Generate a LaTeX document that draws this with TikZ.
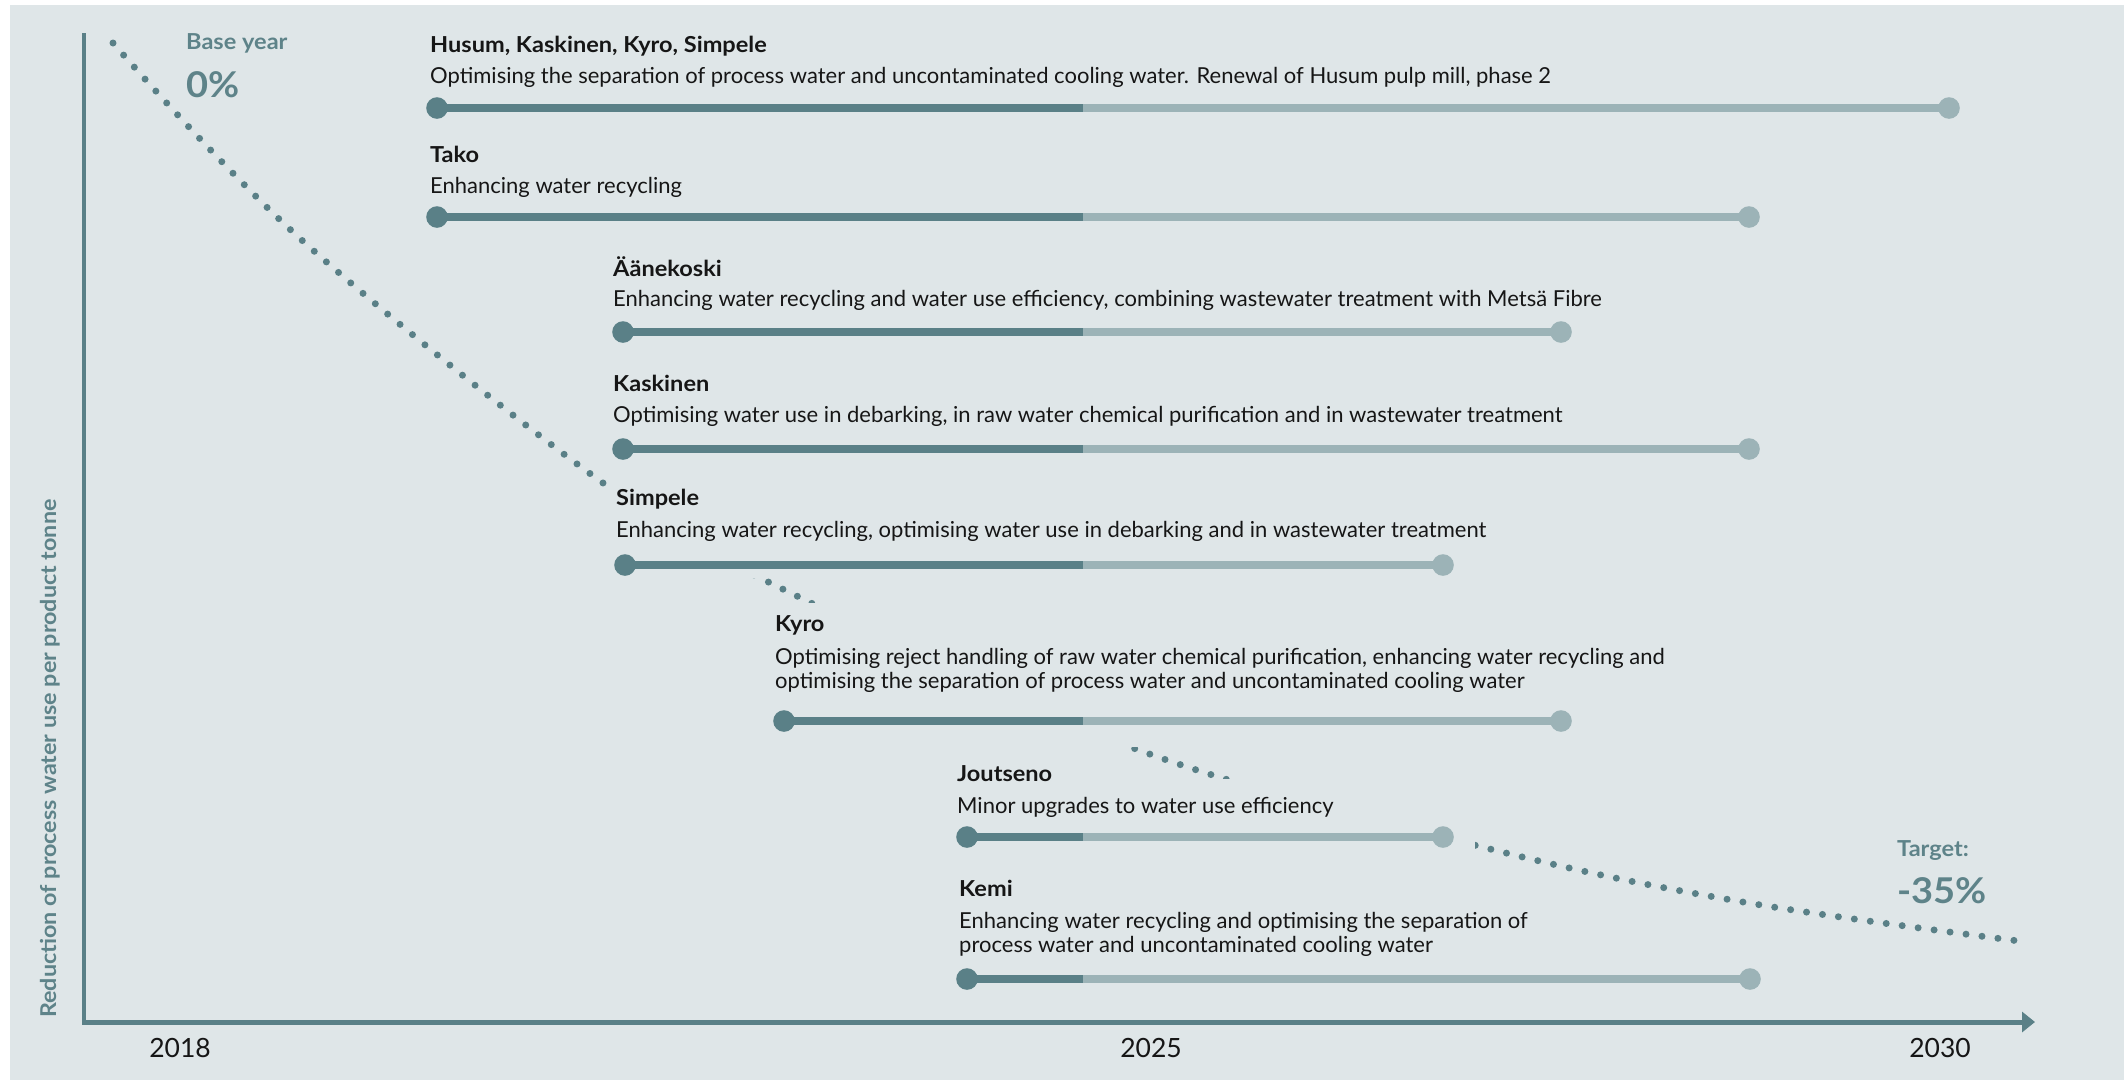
\documentclass[tikz,border=0pt]{standalone}
\usepackage{fontspec}
\setmainfont{Lato}
\newfontfamily\widefont{Lato}[FakeStretch=1.07]
\usetikzlibrary{arrows.meta}
\definecolor{bgc}{HTML}{DFE6E8}
\definecolor{tealc}{HTML}{5A8087}
\definecolor{lightc}{HTML}{9CB3B7}
\definecolor{labc}{HTML}{5E8389}
\definecolor{txtc}{HTML}{161616}
\begin{document}
\begin{tikzpicture}[x=1pt,y=-1pt,
  titletext/.style={anchor=base west,inner sep=0pt,font=\widefont\fontsize{22}{26}\selectfont\bfseries,text=txtc},
  desctext/.style={anchor=base west,inner sep=0pt,font=\fontsize{22}{26}\selectfont,text=txtc},
  yeartext/.style={anchor=base,inner sep=0pt,font=\fontsize{26.5}{30}\selectfont,text=txtc},
  smalllab/.style={anchor=base west,inner sep=0pt,font=\widefont\fontsize{22}{26}\selectfont\bfseries,text=labc},
  biglab/.style={anchor=base west,inner sep=0pt,font=\widefont\fontsize{35.5}{40}\selectfont\bfseries,text=labc},
  barlight/.style={line width=8.5pt,draw=lightc},
  bardark/.style={line width=8.5pt,draw=tealc},
  startdot/.style={circle,fill=tealc,minimum size=21.6pt,inner sep=0pt},
  enddot/.style={circle,fill=lightc,minimum size=21.6pt,inner sep=0pt},
  occl/.style={fill=bgc,draw=none},
  dotcurve/.style={draw=tealc,line width=7pt,line cap=round,dash pattern=on 0pt off 16.1pt}]
\useasboundingbox (0,0) rectangle (2127,1080);
\fill[white] (0,0) rectangle (2127,1080);
\fill[bgc] (10,5) rectangle (2124,1080);

% dotted trend curve
\draw[dotcurve] plot[smooth,tension=0.6] coordinates {(113,43) (305,243) (610,488) (807,601) (1144,752) (1490,849) (1743,902) (2019,941)};
% occluders (text blocks hide the curve)
\fill[occl] (610,486) rectangle (1500,578);
\fill[occl] (770,603) rectangle (1700,747);
\fill[occl] (950,779) rectangle (1475,862);

% axes
\coordinate (ytop) at (84,33);
\coordinate (orig) at (84,1022);
\coordinate (xend) at (2035,1022);
\draw[draw=tealc,line width=3.5pt] (ytop) -- (84,1024.5);
\draw[draw=tealc,line width=5pt,-{Triangle[length=13pt,width=20pt]}] (82.25,1022) -- (xend);

\node[yeartext] (y2018) at (180,1057) {2018};
\node[yeartext] (y2025) at (1151,1057) {2025};
\node[yeartext] (y2030) at (1940,1057) {2030};

\node[anchor=base west,inner sep=0pt,rotate=90,font=\widefont\fontsize{21.8}{25}\selectfont\bfseries,text=labc] (ylab) at (56,1018) {Reduction of process water use per product tonne};

\node[smalllab] (baseyear) at (186,49) {Base year};
\node[biglab] (zero) at (186,97) {0\%};
\node[smalllab] (target) at (1897,856) {Target:};
\node[biglab] (minus) at (1897,903) {-35\%};

% 1 Husum
\node[titletext] (t1) at (430,52) {Husum, Kaskinen, Kyro, Simpele};
\node[desctext] (d1) at (430,83) {Optimising the separation of process water and uncontaminated cooling water. Renewal of Husum pulp mill, phase 2};
\coordinate (s1) at (437,108); \coordinate (m1) at (1083,108); \coordinate (e1) at (1949,108);
\draw[barlight] (s1) -- (e1); \draw[bardark] (s1) -- (m1);
\node[startdot] (s1dot) at (s1) {}; \node[enddot] (e1dot) at (e1) {};

% 2 Tako
\node[titletext] (t2) at (430,162) {Tako};
\node[desctext] (d2) at (430,193) {Enhancing water recycling};
\coordinate (s2) at (437,217); \coordinate (m2) at (1083,217); \coordinate (e2) at (1749,217);
\draw[barlight] (s2) -- (e2); \draw[bardark] (s2) -- (m2);
\node[startdot] (s2dot) at (s2) {}; \node[enddot] (e2dot) at (e2) {};

% 3 Aanekoski
\node[titletext] (t3) at (613,276) {Äänekoski};
\node[desctext] (d3) at (613,306) {Enhancing water recycling and water use efficiency, combining wastewater treatment with Metsä Fibre};
\coordinate (s3) at (623,332); \coordinate (m3) at (1083,332); \coordinate (e3) at (1561,332);
\draw[barlight] (s3) -- (e3); \draw[bardark] (s3) -- (m3);
\node[startdot] (s3dot) at (s3) {}; \node[enddot] (e3dot) at (e3) {};

% 4 Kaskinen
\node[titletext] (t4) at (613,391) {Kaskinen};
\node[desctext] (d4) at (613,422) {Optimising water use in debarking, in raw water chemical purification and in wastewater treatment};
\coordinate (s4) at (623,449); \coordinate (m4) at (1083,449); \coordinate (e4) at (1749,449);
\draw[barlight] (s4) -- (e4); \draw[bardark] (s4) -- (m4);
\node[startdot] (s4dot) at (s4) {}; \node[enddot] (e4dot) at (e4) {};

% 5 Simpele
\node[titletext] (t5) at (616,505) {Simpele};
\node[desctext] (d5) at (616,537) {Enhancing water recycling, optimising water use in debarking and in wastewater treatment};
\coordinate (s5) at (625,565); \coordinate (m5) at (1083,565); \coordinate (e5) at (1443,565);
\draw[barlight] (s5) -- (e5); \draw[bardark] (s5) -- (m5);
\node[startdot] (s5dot) at (s5) {}; \node[enddot] (e5dot) at (e5) {};

% 6 Kyro
\node[titletext] (t6) at (775,631) {Kyro};
\node[desctext] (d6a) at (775,664) {Optimising reject handling of raw water chemical purification, enhancing water recycling and};
\node[desctext] (d6b) at (775,688) {optimising the separation of process water and uncontaminated cooling water};
\coordinate (s6) at (784,721); \coordinate (m6) at (1083,721); \coordinate (e6) at (1561,721);
\draw[barlight] (s6) -- (e6); \draw[bardark] (s6) -- (m6);
\node[startdot] (s6dot) at (s6) {}; \node[enddot] (e6dot) at (e6) {};

% 7 Joutseno
\node[titletext] (t7) at (957,781) {Joutseno};
\node[desctext] (d7) at (957,813) {Minor upgrades to water use efficiency};
\coordinate (s7) at (967,837); \coordinate (m7) at (1083,837); \coordinate (e7) at (1443,837);
\draw[barlight] (s7) -- (e7); \draw[bardark] (s7) -- (m7);
\node[startdot] (s7dot) at (s7) {}; \node[enddot] (e7dot) at (e7) {};

% 8 Kemi
\node[titletext] (t8) at (959,896) {Kemi};
\node[desctext] (d8a) at (959,928) {Enhancing water recycling and optimising the separation of};
\node[desctext] (d8b) at (959,952) {process water and uncontaminated cooling water};
\coordinate (s8) at (967,979); \coordinate (m8) at (1083,979); \coordinate (e8) at (1750,979);
\draw[barlight] (s8) -- (e8); \draw[bardark] (s8) -- (m8);
\node[startdot] (s8dot) at (s8) {}; \node[enddot] (e8dot) at (e8) {};
\end{tikzpicture}
\end{document}
